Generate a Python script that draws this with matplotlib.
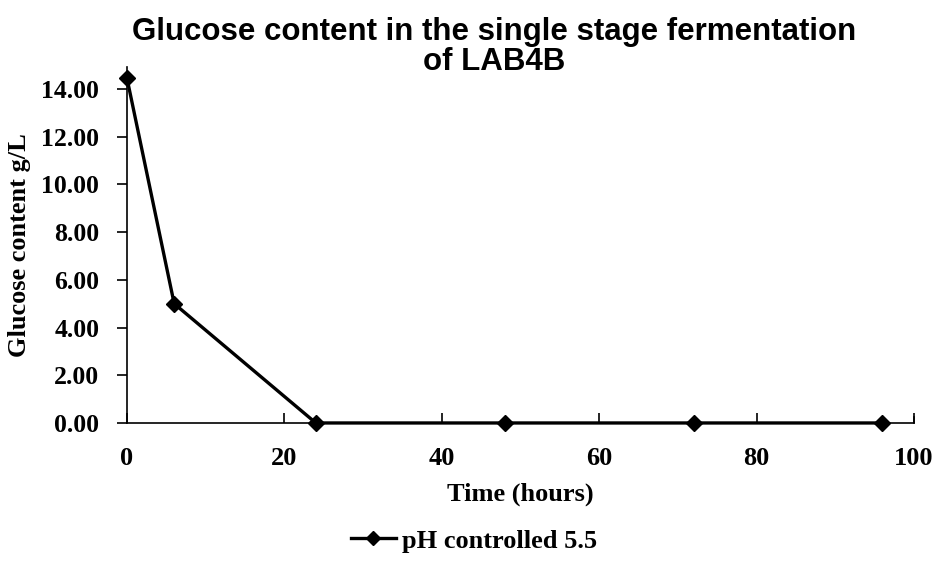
import matplotlib.pyplot as plt
from matplotlib.lines import Line2D

# Glucose readings during single stage fermentation
hours = [0, 6, 24, 48, 72, 96]
glucose = [14.45, 5.0, 0.0, 0.0, 0.0, 0.0]
series_name = "pH controlled 5.5"
x_ticks = [0, 20, 40, 60, 80, 100]
y_ticks = [0, 2, 4, 6, 8, 10, 12, 14]

serif = "Liberation Serif"
sans = "Liberation Sans"

fig = plt.figure(figsize=(9.37, 5.81), dpi=100)
ax = fig.add_axes([0.1355, 0.272, 0.8399, 0.6127])

ax.plot(hours, glucose, color="black", linewidth=2.4, marker="D",
        markersize=8, clip_on=False, zorder=3)

ax.set_xlim(0, 100)
ax.set_ylim(0, 14.92)
ax.set_xticks(x_ticks)
ax.set_yticks(y_ticks)
ax.set_yticklabels([f"{v:.2f}" for v in y_ticks])

for side in ("top", "right"):
    ax.spines[side].set_visible(False)
for side in ("left", "bottom"):
    ax.spines[side].set_linewidth(1.2)

ax.tick_params(axis="x", direction="in", length=7, width=1.2, pad=17)
ax.tick_params(axis="y", direction="out", length=7, width=1.2, pad=13)
for lbl in ax.get_xticklabels():
    lbl.set_fontfamily(serif)
    lbl.set_fontweight("bold")
    lbl.set_fontsize(19)
for lbl in ax.get_yticklabels():
    lbl.set_fontfamily(serif)
    lbl.set_fontweight("bold")
    lbl.set_fontsize(18.5)

# right end tick on the x axis
ax.plot([100, 100], [0, 0.25], color="black", linewidth=1.2, clip_on=False)

ax.set_xlabel("Time (hours)", fontfamily=serif, fontweight="bold",
              fontsize=19, labelpad=9)
ax.set_ylabel("Glucose content g/L", fontfamily=serif, fontweight="bold",
              fontsize=19, labelpad=7)

fig.text(0.527, 0.919, "Glucose content in the single stage fermentation\nof LAB4B",
         ha="center", va="center", fontfamily=sans, fontweight="bold",
         fontsize=22.5, linespacing=1.03)

handle = Line2D([0], [0], color="black", linewidth=2.4, marker="D", markersize=7)
fig.legend([handle], [series_name], loc="center", bbox_to_anchor=(0.506, 0.069),
           frameon=False, handlelength=1.7, handletextpad=0.25,
           prop={"family": serif, "weight": "bold", "size": 19})

fig.savefig("out.png", dpi=100)
